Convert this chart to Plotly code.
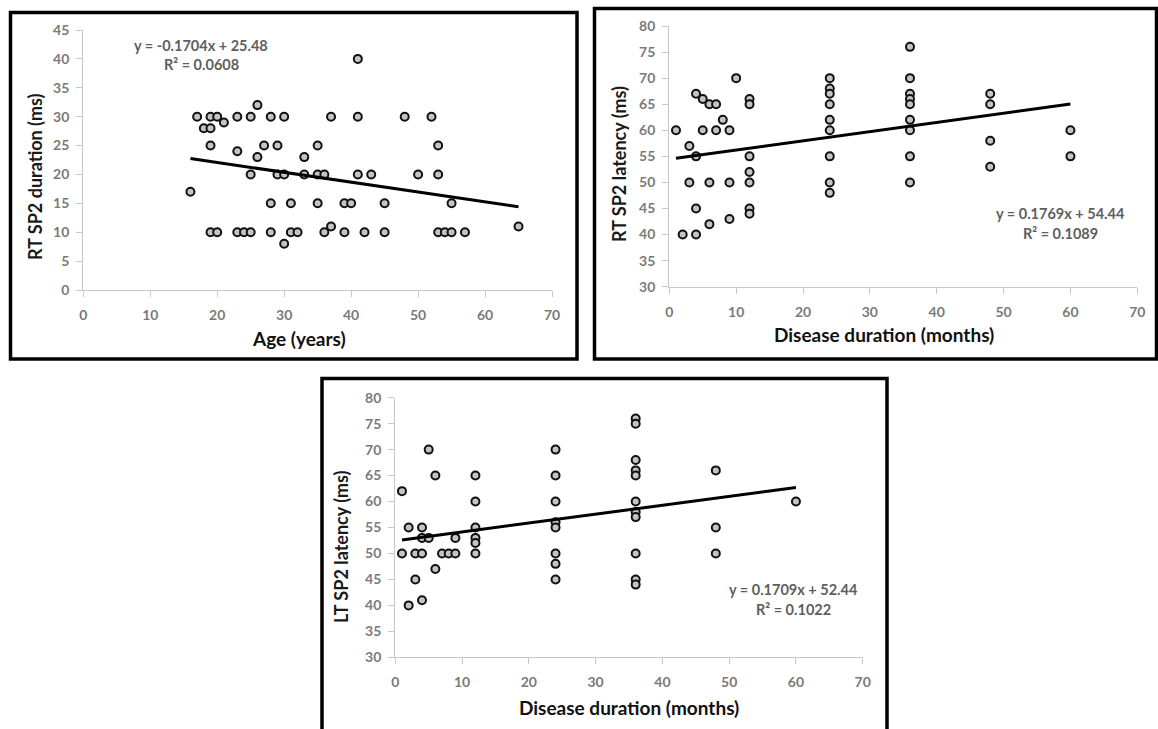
import plotly.graph_objects as go
import numpy as np

# ---------------- Data ----------------
# Panel 1: Age (years) vs RT SP2 duration (ms)
age = [41,
       26,
       17, 19, 20, 23, 25, 28, 30, 37, 41, 48, 52,
       21,
       18, 19,
       19, 27, 29, 35, 53,
       23,
       26, 33,
       25, 29, 30, 33, 35, 36, 41, 43, 50, 53,
       16,
       28, 31, 35, 39, 40, 45, 55,
       37, 65,
       19, 20, 23, 24, 25, 28, 31, 32, 36, 39, 42, 45, 53, 54, 55, 57,
       30]
rt_duration = [40,
               32,
               30, 30, 30, 30, 30, 30, 30, 30, 30, 30, 30,
               29,
               28, 28,
               25, 25, 25, 25, 25,
               24,
               23, 23,
               20, 20, 20, 20, 20, 20, 20, 20, 20, 20,
               17,
               15, 15, 15, 15, 15, 15, 15,
               11, 11,
               10, 10, 10, 10, 10, 10, 10, 10, 10, 10, 10, 10, 10, 10, 10, 10,
               8]
fit1 = (-0.1704, 25.48)
eq1 = ["y = -0.1704x + 25.48", "R² = 0.0608"]

# Panel 2: Disease duration (months) vs RT SP2 latency (ms)
dur_rt = [1, 3, 4, 4, 5, 6, 7, 8, 5, 7, 9, 10, 12, 12, 12, 12, 12, 3, 6, 9,
          4, 12, 12, 2, 4, 6, 9,
          24, 24, 24, 24, 24, 24, 24, 24, 24,
          36, 36, 36, 36, 36, 36, 36, 36, 36,
          48, 48, 48, 48, 60, 60]
rt_latency = [60, 57, 55, 67, 66, 65, 65, 62, 60, 60, 60, 70, 66, 65, 55, 52, 50, 50, 50, 50,
              45, 45, 44, 40, 40, 42, 43,
              70, 68, 67, 65, 62, 60, 55, 50, 48,
              76, 70, 67, 66, 65, 62, 60, 55, 50,
              67, 65, 58, 53, 60, 55]
fit2 = (0.1769, 54.44)
eq2 = ["y = 0.1769x + 54.44", "R² = 0.1089"]

# Panel 3: Disease duration (months) vs LT SP2 latency (ms)
dur_lt = [1, 2, 4, 4, 5, 9, 5, 6, 12, 12, 12, 12, 12,
          1, 3, 4, 7, 8, 9, 12, 6, 3, 2, 4,
          24, 24, 24, 24, 24, 24, 24, 24,
          36, 36, 36, 36, 36, 36, 36, 36, 36, 36, 36,
          48, 48, 48, 60]
lt_latency = [62, 55, 55, 53, 53, 53, 70, 65, 65, 60, 55, 53, 52,
              50, 50, 50, 50, 50, 50, 50, 47, 45, 40, 41,
              70, 65, 60, 56, 55, 50, 48, 45,
              76, 75, 68, 66, 65, 60, 58, 57, 50, 45, 44,
              66, 55, 50, 60]
fit3 = (0.1709, 52.44)
eq3 = ["y = 0.1709x + 52.44", "R² = 0.1022"]

x_ticks = [0, 10, 20, 30, 40, 50, 60, 70]

# ---------------- Figure ----------------
W, H = 1158, 729
FONT = "Lato"
TICK_COL = "#7a7a7a"
AX_COL = "#c8c8c8"
EQ_COL = "#5e5e5e"


def px(x):
    return x / W


def py(y):
    return 1 - y / H


fig = go.Figure()

panels = [
    dict(x=age, y=rt_duration, fit=fit1, eq=eq1, xs="x", ys="y",
         xdom=[px(83.3), px(552)], ydom=[py(290), py(30)], yr=[0, 45],
         ytitle="RT SP2 duration (ms)", xtitle="Age (years)",
         ytx=35, yty=177, xtx=299, xty=338,
         eqx=201, eqy=(45, 65)),
    dict(x=dur_rt, y=rt_latency, fit=fit2, eq=eq2, xs="x2", ys="y2",
         xdom=[px(669.3), px(1137.3)], ydom=[py(286.7), py(26)], yr=[30, 80],
         ytitle="RT SP2 latency (ms)", xtitle="Disease duration (months)",
         ytx=619, yty=164, xtx=884, xty=335,
         eqx=1060, eqy=(213, 233)),
    dict(x=dur_lt, y=lt_latency, fit=fit3, eq=eq3, xs="x3", ys="y3",
         xdom=[px(395.3), px(862.7)], ydom=[py(657.3), py(397.7)], yr=[30, 80],
         ytitle="LT SP2 latency (ms)", xtitle="Disease duration (months)",
         ytx=341, yty=547, xtx=629, xty=707,
         eqx=793, eqy=(589, 609)),
]

annotations = []
for i, p in enumerate(panels, start=1):
    fig.add_trace(go.Scatter(
        x=p["x"], y=p["y"], mode="markers", xaxis=p["xs"], yaxis=p["ys"],
        marker=dict(symbol="circle", size=8, color="#c4c4c4",
                    line=dict(color="#111111", width=2)),
        showlegend=False, hoverinfo="x+y"))
    xmin, xmax = min(p["x"]), max(p["x"])
    xl = np.array([xmin, xmax], dtype=float)
    yl = p["fit"][0] * xl + p["fit"][1]
    fig.add_trace(go.Scatter(
        x=xl, y=yl, mode="lines", xaxis=p["xs"], yaxis=p["ys"],
        line=dict(color="black", width=3), showlegend=False,
        hoverinfo="skip"))
    sfx = "" if i == 1 else str(i)
    fig.layout["xaxis" + sfx] = dict(
        domain=p["xdom"], range=[0, 70], anchor="y" + sfx,
        tickvals=x_ticks, showgrid=False, zeroline=False, automargin=False,
        showline=True, linecolor=AX_COL, linewidth=1.3,
        ticks="outside", ticklen=6, tickcolor=AX_COL, tickwidth=1.3,
        ticklabelstandoff=6,
        tickfont=dict(family=FONT, size=14, color=TICK_COL, weight="bold"),
        fixedrange=True)
    fig.layout["yaxis" + sfx] = dict(
        domain=p["ydom"], range=p["yr"], anchor="x" + sfx, dtick=5,
        showgrid=False, zeroline=False, automargin=False,
        showline=True, linecolor=AX_COL, linewidth=1.3,
        ticks="outside", ticklen=6, tickcolor=AX_COL, tickwidth=1.3,
        ticklabelstandoff=4,
        tickfont=dict(family=FONT, size=14, color=TICK_COL, weight="bold"),
        fixedrange=True)
    annotations.append(dict(
        x=px(p["ytx"]), y=py(p["yty"]), xref="paper", yref="paper",
        text=p["ytitle"], textangle=-90, showarrow=False,
        font=dict(family=FONT, size=18, color="#1a1a1a", weight="bold"),
        xanchor="center", yanchor="middle"))
    annotations.append(dict(
        x=px(p["xtx"]), y=py(p["xty"]), xref="paper", yref="paper",
        text=p["xtitle"], showarrow=False,
        font=dict(family=FONT, size=19, color="#111111", weight="bold"),
        xanchor="center", yanchor="middle"))
    for line_txt, ly in zip(p["eq"], p["eqy"]):
        annotations.append(dict(
            x=px(p["eqx"]), y=py(ly), xref="paper", yref="paper",
            text=line_txt, showarrow=False,
            font=dict(family=FONT, size=14.5, color=EQ_COL, weight="bold"),
            xanchor="center", yanchor="middle", align="center"))

boxes = [(10.5, 12.5, 577, 359), (594.5, 8.5, 1156.5, 359), (322, 378.5, 887, 735)]
shapes = []
for (x0, y0, x1, y1) in boxes:
    shapes.append(dict(type="rect", xref="paper", yref="paper",
                       x0=px(x0), x1=px(x1), y0=py(y1), y1=py(y0),
                       line=dict(color="black", width=3.5),
                       fillcolor="rgba(0,0,0,0)", layer="above"))

fig.update_layout(
    width=W, height=H, margin=dict(l=0, r=0, t=0, b=0, autoexpand=False),
    paper_bgcolor="white", plot_bgcolor="white",
    annotations=annotations, shapes=shapes,
    font=dict(family=FONT),
)

fig.write_html(
    "out.html",
    config={"displayModeBar": False},
    post_script="document.body.style.margin='0';document.body.style.overflow='hidden';",
)
